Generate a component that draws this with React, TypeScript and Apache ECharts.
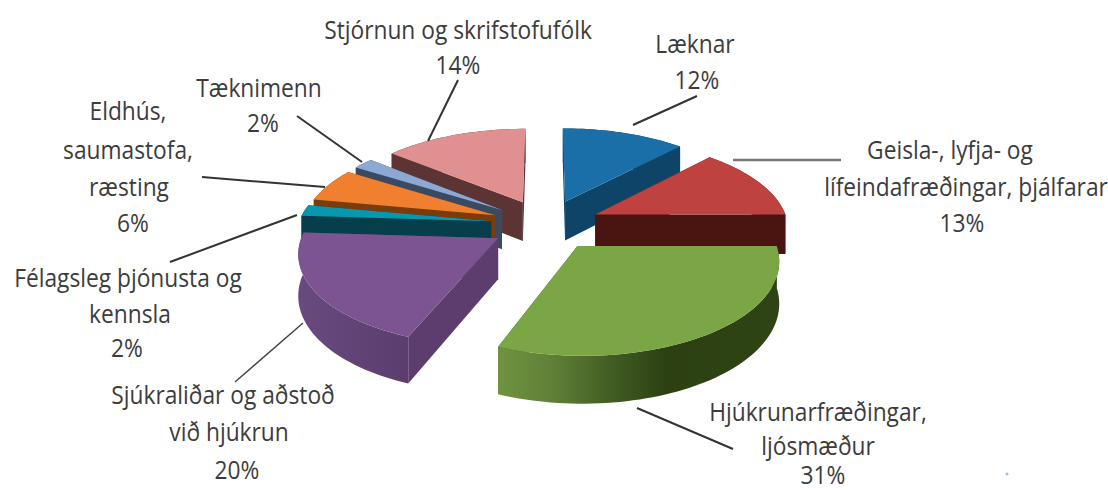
import React, { useEffect, useRef } from "react";
import * as echarts from "echarts";

const categories = [
  "Læknar",
  "Geisla-, lyfja- og lífeindafræðingar, þjálfarar",
  "Hjúkrunarfræðingar, ljósmæður",
  "Sjúkraliðar og aðstoð við hjúkrun",
  "Félagsleg þjónusta og kennsla",
  "Eldhús, saumastofa, ræsting",
  "Tæknimenn",
  "Stjórnun og skrifstofufólk",
];
const shares = [12, 13, 31, 20, 2, 6, 2, 14];
const topColors = ["#1b6fa8", "#be423e", "#7aa645", "#7c5491", "#0798af", "#f08030", "#8ba9d3", "#e09090"];
const wallColors = ["#0e4468", "#4a1410", "#3d5a1e", "#5c3d6e", "#063e4c", "#7a3d0a", "#3a4a62", "#5c3434"];
// Paint rank of each slice, from the back of the pie to its front
const paintOrder = [1, 5, 7, 6, 4, 3, 2, 0];

// Label lines: [text, centre x, centre y]
const labelLines: [string, number, number][] = [
  ["Stjórnun og skrifstofufólk", 458, 29],
  ["14%", 458, 64],
  ["Læknar", 695, 43],
  ["12%", 697, 79],
  ["Geisla-, lyfja- og", 950, 149],
  ["lífeindafræðingar, þjálfarar", 966, 186],
  ["13%", 962, 222],
  ["Tæknimenn", 259, 87],
  ["2%", 263, 122],
  ["Eldhús,", 128, 110],
  ["saumastofa,", 128, 149],
  ["ræsting", 129, 186],
  ["6%", 133, 222],
  ["Félagsleg þjónusta og", 128, 277],
  ["kennsla", 130, 313],
  ["2%", 127, 347],
  ["Sjúkraliðar og aðstoð", 223, 394],
  ["við hjúkrun", 229, 431],
  ["20%", 237, 469],
  ["Hjúkrunarfræðingar,", 818, 411],
  ["ljósmæður", 818, 445],
  ["31%", 823, 474],
];
const leaders: [number, number, number, number, string, number][] = [
  [428, 141, 458, 80, "#333", 2],
  [633, 125, 697, 96, "#333", 2],
  [733, 160, 841, 160, "#777", 2.5],
  [362, 162, 297, 116, "#333", 2],
  [325, 187, 202, 177, "#333", 2],
  [297, 215, 170, 262, "#333", 2],
  [303, 323, 235, 382, "#444", 1.5],
  [637, 408, 733, 449, "#333", 2],
];

const CX = 545.5, CY = 224.5, RADIUS = 193, EXPLODE = 55, TILT = 0.46, DEPTH = 1450, HEIGHT = 40;
const total = shares.reduce((a, b) => a + b, 0);
const starts: number[] = [];
shares.reduce((acc, v, i) => { starts[i] = acc; return acc + v; }, 0);

const project = (X: number, Y: number, down: number): number[] => {
  const s = 1 / (1 - Y / DEPTH);
  return [CX + X * s, CY + Y * TILT * s + down * s];
};

const renderItem = (params: any, api: any) => {
  const i = params.dataIndex;
  const a0 = (starts[i] / total) * 2 * Math.PI;
  const a1 = a0 + (api.value(0) / total) * 2 * Math.PI;
  const m = (a0 + a1) / 2;
  const ox = EXPLODE * Math.sin(m);
  const oy = -EXPLODE * Math.cos(m);
  const n = Math.max(3, Math.ceil((a1 - a0) / 0.03));
  const rim: number[][] = [];
  for (let k = 0; k <= n; k++) {
    const a = a0 + ((a1 - a0) * k) / n;
    rim.push([ox + RADIUS * Math.sin(a), oy - RADIUS * Math.cos(a)]);
  }
  const top = [project(ox, oy, 0), ...rim.map((p) => project(p[0], p[1], 0))];
  const z2 = paintOrder[i] * 10;
  const wall = (pts: number[][], fill: any, z: number) => ({
    type: "polygon",
    z2: z2 + z,
    shape: {
      points: [
        ...pts.map((p) => project(p[0], p[1], 0)),
        ...pts.slice().reverse().map((p) => project(p[0], p[1], HEIGHT)),
      ],
    },
    style: { fill, stroke: null },
  });
  let rimFill: any = wallColors[i];
  if (i === 2) {
    rimFill = new echarts.graphic.LinearGradient(0, 0, 1, 0, [
      { offset: 0, color: "#6f9440" },
      { offset: 0.2, color: "#5f7f36" },
      { offset: 0.42, color: "#3f5a22" },
      { offset: 0.6, color: "#2c4012" },
      { offset: 1, color: "#2f4414" },
    ]);
  } else if (i === 3) {
    rimFill = new echarts.graphic.LinearGradient(0, 0, 1, 0, [
      { offset: 0, color: "#694a80" },
      { offset: 1, color: "#5c3d6e" },
    ]);
  }
  return {
    type: "group",
    children: [
      wall([[ox, oy], rim[0]], wallColors[i], 1),
      wall([[ox, oy], rim[n]], wallColors[i], 1),
      wall(rim, rimFill, 2),
      { type: "polygon", z2: z2 + 3, shape: { points: top }, style: { fill: topColors[i], stroke: null } },
    ],
  };
};

export default function App() {
  const ref = useRef<HTMLDivElement>(null);
  useEffect(() => {
    const chart = echarts.init(ref.current!, undefined, { renderer: "svg" });
    chart.setOption({
      animation: false,
      backgroundColor: "#ffffff",
      series: [
        {
          type: "custom",
          coordinateSystem: "none",
          name: "Starfsfólk",
          renderItem,
          data: shares.map((v, i) => ({ name: categories[i], value: [v] })),
          silent: true,
        },
      ],
      graphic: [
        ...leaders.map(([x1, y1, x2, y2, color, w]) => ({
          type: "line",
          shape: { x1, y1, x2, y2 },
          style: { stroke: color, lineWidth: w },
          z: 5,
        })),
        { type: "circle", shape: { cx: 1007, cy: 474, r: 1.5 }, style: { fill: "#9cc3e6" }, z: 5 },
        ...labelLines.map(([text, x, y]) => ({
          type: "text",
          x,
          y,
          scaleX: 0.91,
          z: 6,
          style: {
            text,
            x: 0,
            y: 0,
            align: "center",
            verticalAlign: "middle",
            font: '25px "Open Sans"',
            fill: "#3c3c3c",
          },
        })),
      ],
    });
    return () => chart.dispose();
  }, []);
  return <div ref={ref} style={{ position: "fixed", left: 0, top: 0, width: 1108, height: 492 }} />;
}
